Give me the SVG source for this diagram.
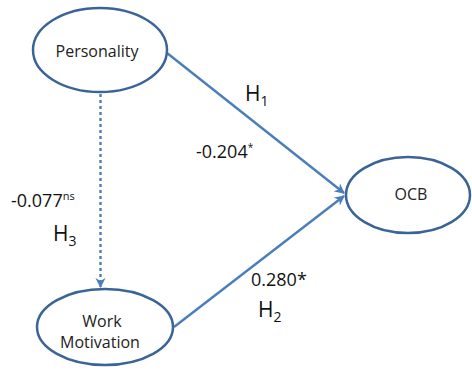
<svg xmlns="http://www.w3.org/2000/svg" width="472" height="372" viewBox="0 0 472 372">
<style>
.node{fill:#fff;stroke:#3B6496;stroke-width:2.5}
.nt{font-family:"Open Sans","Liberation Sans",Arial,sans-serif;font-size:16px;fill:#222;text-anchor:middle}
.lbl{font-family:"Open Sans","Liberation Sans",Arial,sans-serif;fill:#111}
.edge{stroke:#4A7EBB;stroke-width:2.4;fill:none}
</style>
<defs>
<marker id="ah" viewBox="0 0 10 10" refX="9" refY="5" markerWidth="4.2" markerHeight="4.2" orient="auto" markerUnits="strokeWidth">
<path d="M0,0 L10,5 L0,10 L3,5 Z" fill="#4A7EBB"/>
</marker>
</defs>
<rect width="472" height="372" fill="#fff"/>
<g id="connectors">
<line class="edge" x1="167" y1="53" x2="344" y2="193" marker-end="url(#ah)"/>
<line class="edge" x1="174" y1="327" x2="344" y2="196" marker-end="url(#ah)"/>
<line class="edge" x1="100.5" y1="94" x2="100.5" y2="287" stroke-dasharray="3 3" stroke-width="3" marker-end="url(#ah)"/>
</g>
<g id="personality">
<ellipse class="node" cx="100" cy="50" rx="67" ry="42"/>
<text class="nt" x="97" y="57">Personality</text>
</g>
<g id="ocb">
<ellipse class="node" cx="408" cy="195" rx="62" ry="38"/>
<text class="nt" x="411" y="200" font-size="15">OCB</text>
</g>
<g id="work-motivation">
<ellipse class="node" cx="105" cy="327" rx="68" ry="38"/>
<text class="nt" x="102" y="327">Work</text>
<text class="nt" x="100" y="348">Motivation</text>
</g>
<g id="labels">
<text class="lbl" x="245" y="101" font-size="21">H<tspan font-size="14" dy="5">1</tspan></text>
<text class="lbl" x="196" y="158" font-size="18">-0.204<tspan font-size="10" dy="-7">*</tspan></text>
<text class="lbl" x="11" y="207" font-size="18">-0.077<tspan font-size="11" dy="-7">ns</tspan></text>
<text class="lbl" x="53" y="241" font-size="21">H<tspan font-size="14" dy="5">3</tspan></text>
<text class="lbl" x="251" y="286" font-size="18">0.280*</text>
<text class="lbl" x="258" y="317" font-size="21">H<tspan font-size="14" dy="5">2</tspan></text>
</g>
</svg>
